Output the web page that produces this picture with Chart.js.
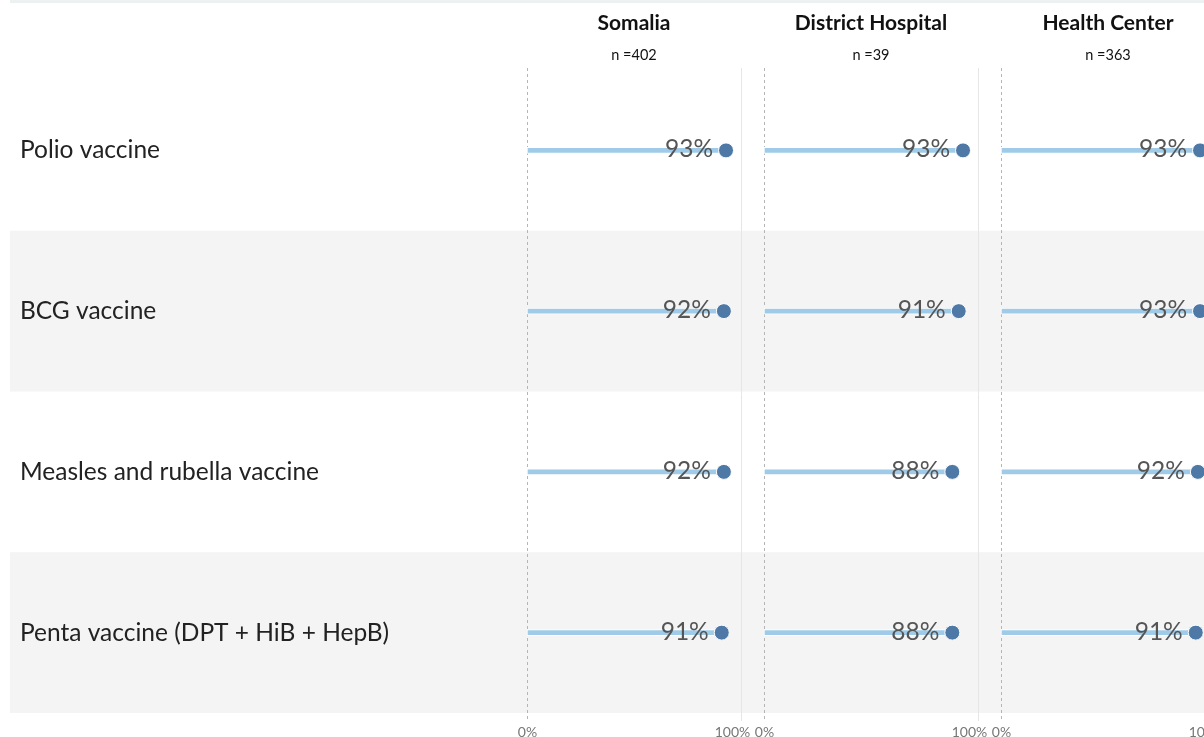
<!DOCTYPE html>
<html>
<head>
<meta charset="utf-8">
<script src="https://cdn.jsdelivr.net/npm/chart.js@4.4.1/dist/chart.umd.min.js"></script>
<style>
	html, body { margin: 0; padding: 0; background: #fff; }
	#wrap { width: 1204px; height: 737px; position: relative; }
</style>
</head>
<body>
<div id="wrap"><canvas id="vax" width="1204" height="737"></canvas></div>
<script>
// data
const vaccines = ["Polio vaccine", "BCG vaccine", "Measles and rubella vaccine", "Penta vaccine (DPT + HiB + HepB)"];
const panels = ["Somalia", "District Hospital", "Health Center"];
const sampleSizes = [402, 39, 363];
const somalia = [93, 92, 92, 91];
const districtHospital = [93, 91, 88, 88];
const healthCenter = [93, 93, 92, 91];
const tickLabels = ["0%", "100%"];

const series = [somalia, districtHospital, healthCenter];
// each panel sits on the shared x scale, shifted by a fixed step (1 unit = 100%)
const PANEL_STEP = 1.1075;

const barColor = "#a0cbe8";
const dotColor = "#4e79a7";
const labelFont = "Lato, 'Open Sans', sans-serif";

let datasets = [];
series.forEach((vals, p) => {
	let off = p * PANEL_STEP;
	datasets.push({
		type: "bar",
		label: panels[p] + " bar",
		data: vals.map(v => [off, off + v / 100]),
		backgroundColor: barColor,
		borderColor: "#ffffff",
		borderWidth: 1,
		borderSkipped: false,
		barThickness: 6,
		grouped: false,
		clip: false,
		order: 2
	});
});
series.forEach((vals, p) => {
	let off = p * PANEL_STEP;
	datasets.push({
		type: "line",
		label: panels[p],
		data: vals.map((v, i) => ({ x: off + v / 100, y: vaccines[i] })),
		showLine: false,
		pointRadius: 7.5,
		pointHoverRadius: 7.5,
		pointBackgroundColor: dotColor,
		pointBorderColor: "#ffffff",
		pointBorderWidth: 1,
		clip: false,
		order: 1,
		isDot: true,
		values: vals
	});
});

const decor = {
	id: "decor",
	beforeDraw(chart) {
		const ctx = chart.ctx;
		const x = chart.scales.x, y = chart.scales.y;
		const area = chart.chartArea;
		ctx.save();
		// thin strip at the very top
		ctx.fillStyle = "#eef1f1";
		ctx.fillRect(10, 0, chart.width - 10, 3);
		// alternating row bands
		let step = (y.getPixelForValue(1) - y.getPixelForValue(0));
		vaccines.forEach((v, i) => {
			if (i % 2 === 1) {
				let cy = y.getPixelForValue(i);
				ctx.fillStyle = "#f4f4f4";
				ctx.fillRect(10, cy - step / 2, chart.width - 10, step);
			}
		});
		// reference lines at 0% (dashed) and 100% (solid)
		panels.forEach((name, p) => {
			let off = p * PANEL_STEP;
			let x0 = Math.round(x.getPixelForValue(off)) + 0.5;
			let x1 = Math.round(x.getPixelForValue(off + 1)) + 0.5;
			ctx.lineWidth = 1;
			ctx.strokeStyle = "#e6e6e6";
			ctx.setLineDash([]);
			ctx.beginPath();
			ctx.moveTo(x1, area.top - 2);
			ctx.lineTo(x1, area.bottom + 8);
			ctx.stroke();
			ctx.strokeStyle = "#b5b5b5";
			ctx.setLineDash([3, 3]);
			ctx.beginPath();
			ctx.moveTo(x0, area.top - 2);
			ctx.lineTo(x0, area.bottom + 8);
			ctx.stroke();
			ctx.setLineDash([]);

			// headers
			let cx = x.getPixelForValue(off + 0.5);
			ctx.fillStyle = "#111";
			ctx.textAlign = "center";
			ctx.textBaseline = "middle";
			ctx.font = "bold 21px " + labelFont;
			ctx.fillText(name, cx, 23);
			ctx.font = "14.5px " + labelFont;
			ctx.fillText("n =" + sampleSizes[p], cx, 55);

			// axis tick labels
			ctx.fillStyle = "#777";
			ctx.font = "14px " + labelFont;
			ctx.fillText(tickLabels[0], x0, 732);
			ctx.fillText(tickLabels[1], x1 - 9, 732);
		});
		ctx.restore();
	},
	afterDatasetsDraw(chart) {
		const ctx = chart.ctx;
		ctx.save();
		ctx.fillStyle = "#555";
		ctx.font = "24.5px " + labelFont;
		ctx.textAlign = "right";
		ctx.textBaseline = "middle";
		chart.data.datasets.forEach((ds, di) => {
			if (!ds.isDot) return;
			chart.getDatasetMeta(di).data.forEach((pt, i) => {
				ctx.fillText(ds.values[i] + "%", pt.x - 13, pt.y - 1);
			});
		});
		ctx.restore();
	}
};

const chart = new Chart(document.getElementById("vax").getContext("2d"), {
	data: { labels: vaccines, datasets: datasets },
	options: {
		responsive: false,
		animation: false,
		devicePixelRatio: 1,
		indexAxis: "y",
		layout: { autoPadding: false, padding: { left: 20, top: 70, right: 0, bottom: 24 } },
		plugins: { legend: { display: false }, tooltip: { enabled: false } },
		scales: {
			x: {
				type: "linear",
				display: false,
				min: 0,
				max: 677 / 214
			},
			y: {
				type: "category",
				offset: true,
				grid: { display: false },
				border: { display: false },
				ticks: {
					crossAlign: "far",
					color: "#222",
					font: { size: 24.5, family: labelFont },
					padding: 0
				},
				afterFit(scale) { scale.width = 507; }
			}
		}
	},
	plugins: [decor]
});
</script>
</body>
</html>
